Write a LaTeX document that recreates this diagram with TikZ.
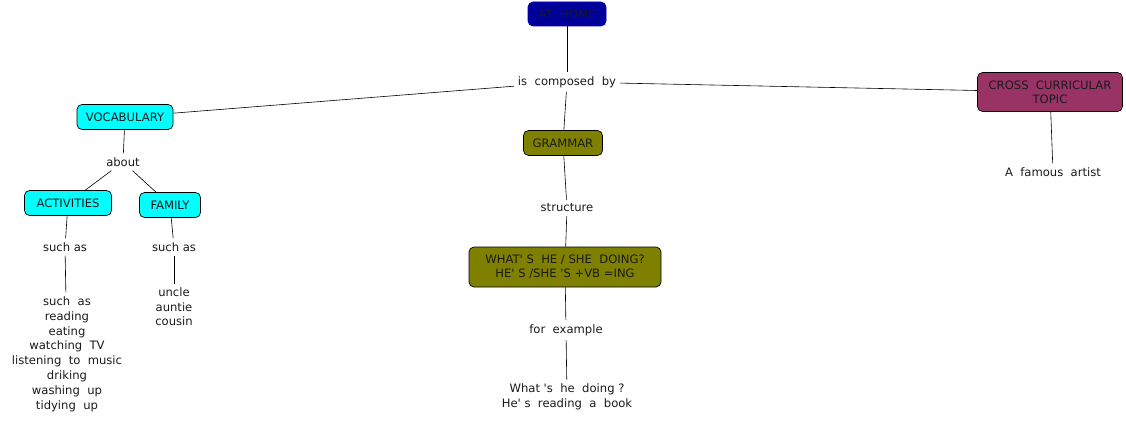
\documentclass[tikz,border=0pt]{standalone}
\usepackage{fontspec}
\setmainfont{DejaVu Sans}
\definecolor{navyfill}{HTML}{000099}
\definecolor{navyline}{HTML}{0000CC}
\definecolor{cyanfill}{HTML}{00FFFF}
\definecolor{olivefill}{HTML}{808000}
\definecolor{maroonfill}{HTML}{993366}
\definecolor{txt}{HTML}{1A1A1A}
\newcommand{\sq}{\textquotesingle}
\begin{document}
\begin{tikzpicture}[x=1pt,y=-1pt,
  every node/.style={font=\fontsize{11.6}{13}\selectfont, text=txt},
  concept/.style={draw=black, line width=0.7pt, rounded corners=5pt, align=center, inner sep=0pt},
  linklabel/.style={align=center, inner sep=4pt},
  conn/.style={draw=black, line width=0.6pt}]
\useasboundingbox (0,0) rectangle (1126,422);
\node[concept, fill=navyfill, draw=navyline, minimum width=78pt, minimum height=24pt] (home) at (567,14) {AT\ \ HOME};
\node[linklabel] (comp) at (567,82) {is\ \ composed\ \ by};
\node[concept, fill=maroonfill, minimum width=145pt, minimum height=39pt, font=\fontsize{11.6}{14}\selectfont] (cross) at (1050,92) {CROSS\ \ CURRICULAR\\TOPIC};
\node[linklabel] (artist) at (1053,172) {A\ \ famous\ \ artist};
\node[concept, fill=cyanfill, minimum width=96pt, minimum height=25pt] (vocab) at (125,117) {VOCABULARY};
\node[linklabel] (about) at (123,162) {about};
\node[concept, fill=cyanfill, minimum width=87pt, minimum height=25pt] (act) at (68,203) {ACTIVITIES};
\node[concept, fill=cyanfill, minimum width=61pt, minimum height=25pt] (fam) at (170,205) {FAMILY};
\node[linklabel] (such1) at (65,247) {such as};
\node[linklabel] (such2) at (174,247) {such as};
\node[linklabel, font=\fontsize{11.6}{14.8}\selectfont] (list) at (67,354) {such\ \ as\\reading\\eating\\watching\ \ TV\\listening\ \ to\ \ music\\driking\\washing\ \ up\\tidying\ \ up};
\node[linklabel, font=\fontsize{11.6}{14.5}\selectfont] (rel) at (174,307) {uncle\\auntie\\cousin};
\node[concept, fill=olivefill, minimum width=79pt, minimum height=25pt] (gram) at (563,143) {GRAMMAR};
\node[linklabel] (struct) at (567,208) {structure};
\node[concept, fill=olivefill, minimum width=192pt, minimum height=40pt, font=\fontsize{11.6}{14}\selectfont] (what) at (565,267) {WHAT\sq\ S\ \ HE\ /\ SHE\ \ DOING?\\HE\sq\ S\ /SHE\ \sq S\ +VB\ =ING};
\node[linklabel] (forex) at (566,330) {for\ \ example};
\node[linklabel, font=\fontsize{11.6}{15}\selectfont] (ex) at (567,397) {What\ \sq s\ \ he\ \ doing\ ?\\He\sq\ s\ \ reading\ \ a\ \ book};
\draw[conn] (home) -- (comp);
\draw[conn] (comp) -- (vocab);
\draw[conn] (comp) -- (cross);
\draw[conn] (comp) -- (gram);
\draw[conn] (cross) -- (artist);
\draw[conn] (vocab) -- (about);
\draw[conn] (about) -- (act);
\draw[conn] (about) -- (fam);
\draw[conn] (act) -- (such1);
\draw[conn] (fam) -- (such2);
\draw[conn] (such1) -- (list);
\draw[conn] (such2) -- (rel);
\draw[conn] (gram) -- (struct);
\draw[conn] (struct) -- (what);
\draw[conn] (what) -- (forex);
\draw[conn] (forex) -- (ex);
\end{tikzpicture}
\end{document}
